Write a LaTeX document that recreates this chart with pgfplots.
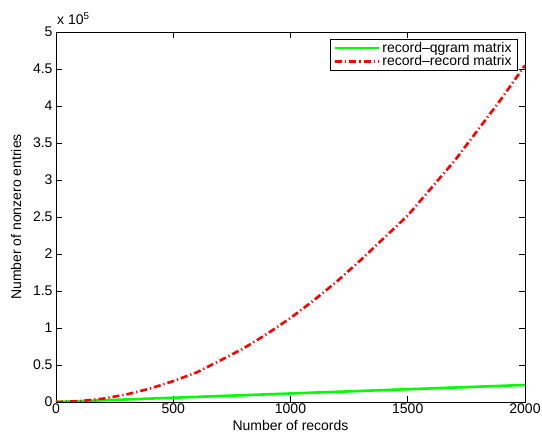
\documentclass[border=0pt]{standalone}
\usepackage{pgfplots}
\pgfplotsset{compat=1.18}
\usepackage{fontspec}
\setmainfont{Liberation Sans}
\begin{document}
\begin{tikzpicture}
\begin{axis}[
    scale only axis,
    width=469pt, height=370pt,
    xmin=0, xmax=2000,
    ymin=0, ymax=500000,
    xtick={0,500,1000,1500,2000},
    ytick={0,50000,100000,150000,200000,250000,300000,350000,400000,450000,500000},
    scaled x ticks=false,
    scaled y ticks=base 10:-5,
    ytick scale label code/.code={x 10\textsuperscript{#1}},
    every y tick scale label/.style={at={(rel axis cs:0,1)},anchor=south west,inner sep=1pt,yshift=6pt,font=\fontsize{14}{16}\selectfont},
    tick align=inside,
    tick pos=both,
    major tick length=6pt,
    axis line style={line width=0.7pt},
    tick style={line width=0.7pt, black},
    /pgf/number format/assume math mode=true,
    /pgf/number format/1000 sep={},
    ticklabel style={font=\fontsize{14}{16}\selectfont},
    xticklabel style={yshift=1.5pt},
    yticklabel style={/pgf/number format/fixed},
    label style={font=\fontsize{14}{16}\selectfont},
    xlabel={Number of records},
    ylabel={Number of nonzero entries},
    xlabel style={yshift=0pt},
    ylabel style={yshift=5pt},
    legend style={at={(rel axis cs:0.985,0.982)}, anchor=north east,
        font=\fontsize{14}{16}\selectfont, draw=black, line width=0.7pt,
        inner xsep=4pt, inner ysep=1pt, row sep=-2pt, cells={anchor=west}},
    legend cell align=left,
    legend image code/.code={\draw[#1, line width=2.4pt] (0pt,0pt) -- (44pt,0pt);},
]
\addplot[color={rgb,255:red,0;green,255;blue,0}, line width=2.6pt] coordinates {
    (0,0) (200,2300) (400,4600) (600,6900) (800,9200) (1000,11500)
    (1200,13800) (1400,16100) (1600,18400) (1800,20700) (2000,23000)
};
\addlegendentry{record--qgram matrix}
\addplot[red, line width=2.6pt, dash pattern=on 7pt off 3pt on 1.2pt off 3pt] coordinates {
    (0,0) (100,1100) (200,4500) (300,10200) (400,18000) (500,28200)
    (600,40000) (700,56000) (800,72500) (900,92000) (1000,113500)
    (1100,137500) (1200,163500) (1300,192000) (1400,222000) (1500,252000)
    (1600,289000) (1700,326000) (1800,368000) (1900,410000)
    (2000,455000)
};
\addlegendentry{record--record matrix}
\end{axis}
\pgfresetboundingbox
\path (-56pt,-34pt) rectangle (486pt,402pt);
\end{tikzpicture}
\end{document}
